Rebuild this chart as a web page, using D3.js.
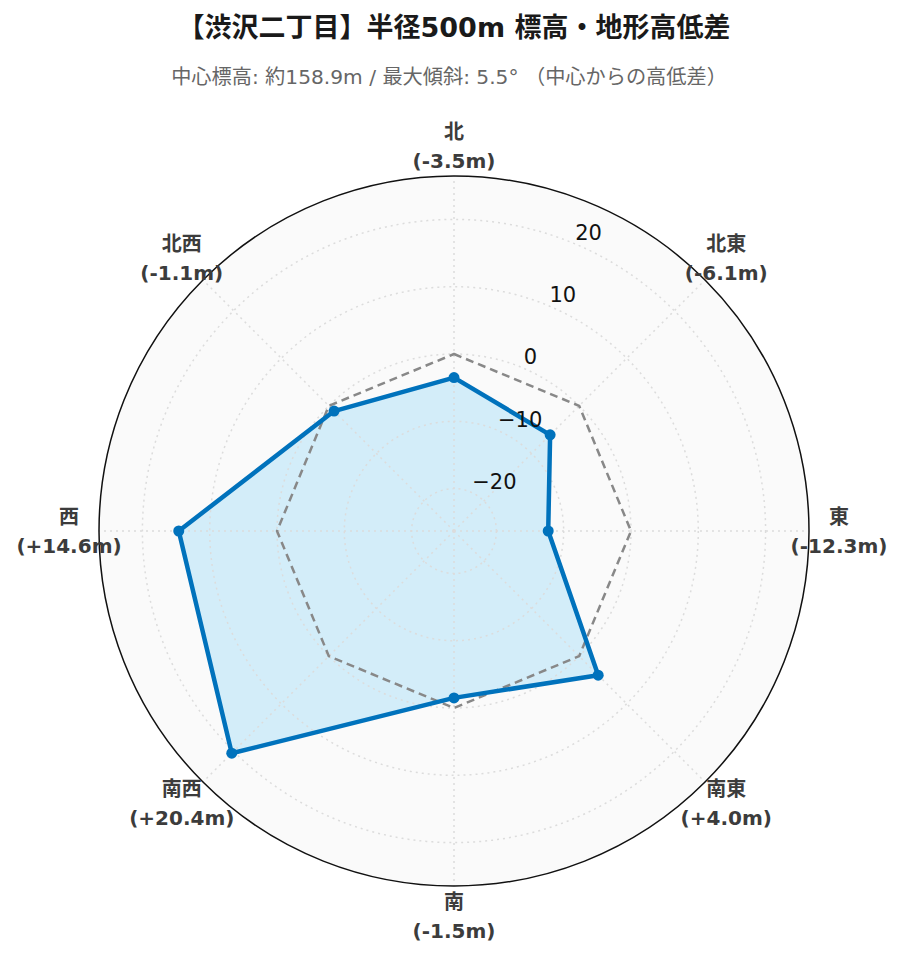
<!DOCTYPE html>
<html>
<head>
<meta charset="utf-8">
<script src="https://cdn.jsdelivr.net/npm/d3@7"></script>
<style>
  html, body { margin: 0; padding: 0; background: #ffffff; }
  svg { display: block; }
</style>
</head>
<body>
<div id="chart"></div>
<script>
// ---- data ----
const directions = ["北", "北東", "東", "南東", "南", "南西", "西", "北西"];
const diffValues = [-3.5, -6.1, -12.3, 4.0, -1.5, 20.4, 14.6, -1.1];
const referenceValues = [0, 0, 0, 0, 0, 0, 0, 0];
const radialTicks = [-20, -10, 0, 10, 20];
const radialRange = [-26.3, 26.45];
const titleText = "【渋沢二丁目】半径500m 標高・地形高低差";
const subtitleText = "中心標高: 約158.9m / 最大傾斜: 5.5° （中心からの高低差）";

// ---- layout ----
const W = 903, H = 962;
const cx = 454, cy = 531, R = 355;
const fontFam = "'DejaVu Sans', 'Noto Sans CJK JP', sans-serif";

const svg = d3.select("#chart").append("svg")
  .attr("width", W).attr("height", H)
  .style("font-family", fontFam);

svg.append("text")
  .attr("x", 454).attr("y", 27)
  .attr("text-anchor", "middle").attr("dominant-baseline", "central")
  .attr("font-size", 27).attr("font-weight", "bold").attr("fill", "#1a1a1a")
  .text(titleText);

svg.append("text")
  .attr("x", 449).attr("y", 77)
  .attr("text-anchor", "middle").attr("dominant-baseline", "central")
  .attr("font-size", 20.2).attr("fill", "#666")
  .text(subtitleText);

const r = d3.scaleLinear().domain(radialRange).range([0, R]);
const angle = d3.scalePoint().domain(directions).range([0, 2 * Math.PI * (directions.length - 1) / directions.length]);

const g = svg.append("g").attr("transform", `translate(${cx},${cy})`);

// plot background
g.append("circle").attr("r", R).attr("fill", "#fafafa");

function pt(dir, v) {
  const a = angle(dir);
  const rr = r(v);
  return [rr * Math.sin(a), -rr * Math.cos(a)];
}

const dataPts = directions.map((d, i) => pt(d, diffValues[i]));
const refPts = directions.map((d, i) => pt(d, referenceValues[i]));

// data fill (below grid)
g.append("path")
  .attr("d", d3.line()(dataPts) + "Z")
  .attr("fill", "#d3edf9").attr("stroke", "none");

// grid: circles
const gridG = g.append("g");
radialTicks.forEach(t => {
  gridG.append("circle").attr("r", r(t))
    .attr("fill", "none").attr("stroke", "#dcdcdc")
    .attr("stroke-width", 1.5).attr("stroke-dasharray", "2,4");
});
// grid: spokes
directions.forEach(d => {
  const [x, y] = pt(d, radialRange[1]);
  gridG.append("line").attr("x1", 0).attr("y1", 0).attr("x2", x).attr("y2", y)
    .attr("stroke", "#dcdcdc").attr("stroke-width", 1.5).attr("stroke-dasharray", "2,4");
});

// outer circle
g.append("circle").attr("r", R).attr("fill", "none").attr("stroke", "#111").attr("stroke-width", 1.5);

// reference (0) dashed polygon
g.append("path")
  .attr("d", d3.line()(refPts) + "Z")
  .attr("fill", "none").attr("stroke", "#888")
  .attr("stroke-width", 2.5).attr("stroke-dasharray", "8,5")
  .attr("stroke-linejoin", "round");

// data line
g.append("path")
  .attr("d", d3.line()(dataPts) + "Z")
  .attr("fill", "none").attr("stroke", "#0072bc")
  .attr("stroke-width", 4.5).attr("stroke-linejoin", "round");

// markers
g.selectAll("circle.mk").data(dataPts).enter().append("circle")
  .attr("class", "mk")
  .attr("cx", d => d[0]).attr("cy", d => d[1]).attr("r", 5.5)
  .attr("fill", "#0072bc");

// radial tick labels along axis at 22.5deg clockwise from north
const axA = Math.PI / 8;
radialTicks.forEach(t => {
  const rr = r(t);
  const x = rr * Math.sin(axA), y = -rr * Math.cos(axA);
  g.append("text")
    .attr("x", x + 2).attr("y", y - 10)
    .attr("dominant-baseline", "central")
    .attr("font-size", 21).attr("fill", "#111")
    .text(d3.format("")(t).replace("-", "\u2212"));
});

// angular labels
const fmt = v => (v > 0 ? "+" : "") + v.toFixed(1) + "m";
directions.forEach((d, i) => {
  const a = angle(d);
  const lr = 385;
  const x = lr * Math.sin(a), y = -lr * Math.cos(a);
  const t = g.append("text")
    .attr("text-anchor", "middle")
    .attr("font-size", 20).attr("font-weight", "bold").attr("fill", "#3c3c3c");
  t.append("tspan").attr("x", x).attr("y", y - 14.5).attr("dominant-baseline", "central").text(d);
  t.append("tspan").attr("x", x).attr("y", y + 14.5).attr("dominant-baseline", "central").text("(" + fmt(diffValues[i]) + ")");
});
</script>
</body>
</html>
